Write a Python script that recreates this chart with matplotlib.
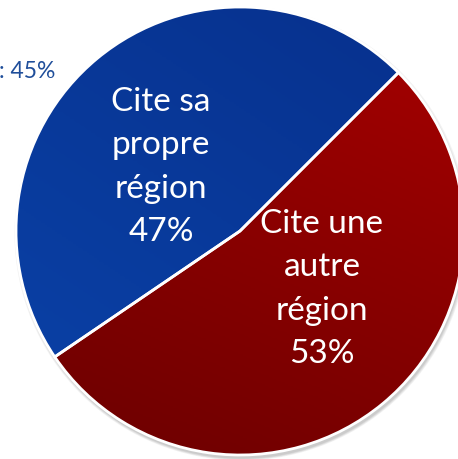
import numpy as np
import matplotlib
matplotlib.use("Agg")
import matplotlib.pyplot as plt
from matplotlib.colors import LinearSegmentedColormap
from matplotlib.patches import Circle

categories = ["Cite sa\npropre\nrégion", "Cite une\nautre\nrégion"]
values = [47, 53]
outside_label = ": 45%"

W, H = 458, 459
fig = plt.figure(figsize=(W / 100, H / 100), dpi=100)
ax = fig.add_axes([0, 0, 1, 1])

cx, cy, r = 240, 459 - 231, 224

# soft shadow
for i, a in enumerate([0.10, 0.10, 0.12, 0.15]):
    ax.add_patch(Circle((cx + 1.5, cy - 2.5 - i * 0.4), r + 3 - i, color="#808080",
                        alpha=a, lw=0, zorder=0))

wedges, _ = ax.pie(values, startangle=45, counterclock=True, center=(cx, cy), radius=r,
                   colors=["#0a3c9e", "#8a0000"],
                   wedgeprops=dict(edgecolor="white", linewidth=2))

# gradients
blue_cmap = LinearSegmentedColormap.from_list("b", ["#0a42a8", "#07308c"])
red_cmap = LinearSegmentedColormap.from_list("r", ["#6a0000", "#a80000"])
extent = (cx - r, cx + r, cy - r, cy + r)
gx = np.linspace(0, 1, 256)
gy = np.linspace(0, 1, 256)
GX, GY = np.meshgrid(gx, gy)
gb = (GY * 0.6 + GX * 0.4)
gr = (GY * 0.7 + GX * 0.3)
for w, g, cm in [(wedges[0], gb, blue_cmap), (wedges[1], gr, red_cmap)]:
    im = ax.imshow(g, cmap=cm, extent=extent, origin="lower", zorder=w.get_zorder(),
                   interpolation="bilinear", aspect="auto")
    im.set_clip_path(w)
    w.set_facecolor("none")
    w.set_zorder(w.get_zorder() + 0.5)

fam = ["Lato", "DejaVu Sans"]
ax.text(161, 459 - 167, f"{categories[0]}\n{values[0]}%", ha="center", va="center",
        color="white", fontsize=24, family=fam, linespacing=1.55, zorder=5)
ax.text(322, 459 - 289, f"{categories[1]}\n{values[1]}%", ha="center", va="center",
        color="white", fontsize=24, family=fam, linespacing=1.55, zorder=5)
ax.text(-1, 459 - 71, outside_label, ha="left", va="center", color="#1f4e9a",
        fontsize=16.5, family=fam, zorder=5)

ax.set_xlim(0, W)
ax.set_ylim(0, H)
ax.set_aspect("auto")
ax.axis("off")
fig.savefig("out.png", dpi=100)
